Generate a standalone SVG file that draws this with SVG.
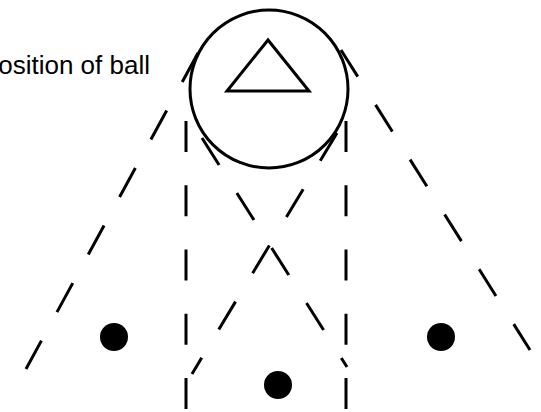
<svg xmlns="http://www.w3.org/2000/svg" width="541" height="412" viewBox="0 0 541 412">
  <style>
    .lbl { font-family: "Liberation Sans", Arial, sans-serif; font-size: 26px; fill: #000; }
    .outline { fill: none; stroke: #000; stroke-width: 3; }
    .tri { fill: none; stroke: #000; stroke-width: 3; stroke-linejoin: miter; }
    .dot { fill: #000; }
    .dash { fill: none; stroke: #000; stroke-width: 3; stroke-linecap: butt; }
  </style>
  <rect width="541" height="412" fill="#fff"/>
  <g id="connectors">
    <path class="dash" d="M198,53 L26,369" stroke-dasharray="33 32.5"/>
    <path class="dash" d="M341,50 L530,350" stroke-dasharray="31.5 33.3"/>
    <path class="dash" d="M186,121 L186,409" stroke-dasharray="31 33.25"/>
    <path class="dash" d="M346,121 L346,409" stroke-dasharray="31 33.25"/>
    <path class="dash" d="M202,138 L347,367" stroke-dasharray="32 33.1"/>
    <path class="dash" d="M337,133 L192,374" stroke-dasharray="32.5 33.1"/>
  </g>
  <g id="ball">
    <circle class="outline" cx="269" cy="89" r="79"/>
    <polygon class="tri" points="268,40 227,91 309,91"/>
  </g>
  <g id="label">
    <text class="lbl" x="150" y="74" text-anchor="end">position of ball</text>
  </g>
  <g id="player-left"><circle class="dot" cx="114" cy="337" r="14"/></g>
  <g id="player-middle"><circle class="dot" cx="278" cy="385" r="14"/></g>
  <g id="player-right"><circle class="dot" cx="441" cy="337" r="14"/></g>
</svg>
